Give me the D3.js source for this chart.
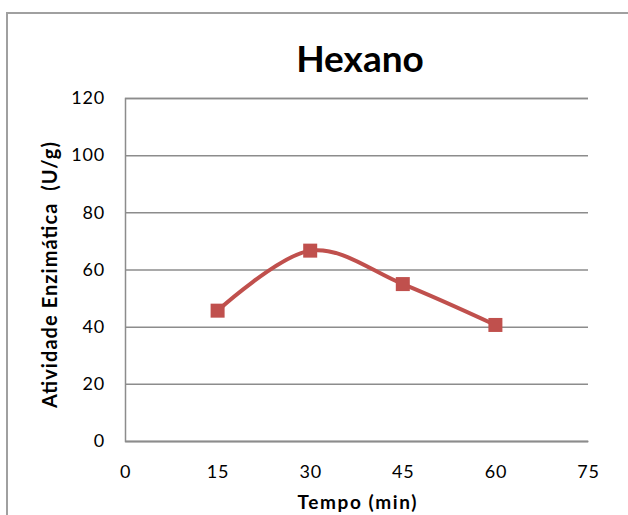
<!DOCTYPE html>
<html>
<head>
<meta charset="utf-8">
<script src="https://cdn.jsdelivr.net/npm/d3@7"></script>
<style>
  html, body { margin: 0; padding: 0; background: #fff; }
  svg { display: block; font-family: Lato, "Open Sans", sans-serif; }
</style>
</head>
<body>
<svg id="chart" width="628" height="515"></svg>
<script>
// Enzyme activity measured in hexane at each sampling time
const tempos = [15, 30, 45, 60];
const atividade = [45.6, 66.6, 54.9, 40.6];
const xTicks = [0, 15, 30, 45, 60, 75];
const yTicks = [0, 20, 40, 60, 80, 100, 120];

const titulo = "Hexano";
const xTitulo = "Tempo (min)";
const yTitulo = "Atividade Enzimática  (U/g)";

const svg = d3.select("#chart");
const plot = { left: 125, right: 588, top: 98, bottom: 441 };
const corSerie = "#C0504D";
const corGrade = "#8c8c8c";

// chart frame
svg.append("path")
  .attr("d", "M7,640 L7,13 L640,13")
  .attr("fill", "none")
  .attr("stroke", "#a0a0a0")
  .attr("stroke-width", 2);

const x = d3.scaleLinear().domain([0, 75]).range([plot.left, plot.right]);
const y = d3.scaleLinear().domain([0, 120]).range([plot.bottom, plot.top]);

// horizontal gridlines + left axis labels
const yAxis = d3.axisLeft(y).tickValues(yTicks).tickSize(-(plot.right - plot.left)).tickPadding(20);
const gy = svg.append("g").attr("transform", `translate(${plot.left},0)`).call(yAxis);
gy.select(".domain").attr("stroke", corGrade).attr("stroke-width", 1.5);
gy.selectAll(".tick line").attr("stroke", corGrade).attr("stroke-width", 1.5);
gy.selectAll(".tick text")
  .attr("fill", "#000").attr("font-size", 18).attr("letter-spacing", 0.8)
  .attr("font-family", "Lato, sans-serif");

// bottom axis labels
const xAxis = d3.axisBottom(x).tickValues(xTicks).tickSize(0).tickPadding(24);
const gx = svg.append("g").attr("transform", `translate(0,${plot.bottom})`).call(xAxis);
gx.select(".domain").attr("stroke", corGrade).attr("stroke-width", 1.5);
gx.selectAll(".tick text")
  .attr("fill", "#000").attr("font-size", 18).attr("letter-spacing", 0.8)
  .attr("font-family", "Lato, sans-serif");

// smoothed series line
const dados = tempos.map((t, i) => ({ t, v: atividade[i] }));
const linha = d3.line()
  .x(d => x(d.t)).y(d => y(d.v))
  .curve(d3.curveCatmullRom.alpha(0));
svg.append("path")
  .datum(dados)
  .attr("d", linha)
  .attr("fill", "none")
  .attr("stroke", corSerie)
  .attr("stroke-width", 4)
  .attr("stroke-linejoin", "round");

// square markers
const lado = 14;
svg.append("g").selectAll("rect")
  .data(dados)
  .join("rect")
  .attr("x", d => x(d.t) - lado / 2)
  .attr("y", d => y(d.v) - lado / 2)
  .attr("width", lado)
  .attr("height", lado)
  .attr("fill", corSerie);

// titles
svg.append("text")
  .attr("x", 360).attr("y", 72)
  .attr("text-anchor", "middle")
  .attr("font-size", 37).attr("font-weight", "bold")
  .text(titulo);

svg.append("text")
  .attr("x", 357).attr("y", 509)
  .attr("text-anchor", "middle")
  .attr("font-size", 19).attr("font-weight", "bold")
  .attr("textLength", 119).attr("lengthAdjust", "spacing")
  .text(xTitulo);

svg.append("text")
  .attr("transform", "translate(57,275) rotate(-90)")
  .attr("text-anchor", "middle")
  .attr("font-size", 20).attr("font-weight", "bold")
  .attr("textLength", 266).attr("lengthAdjust", "spacing")
  .style("white-space", "pre")
  .text(yTitulo);
</script>
</body>
</html>
